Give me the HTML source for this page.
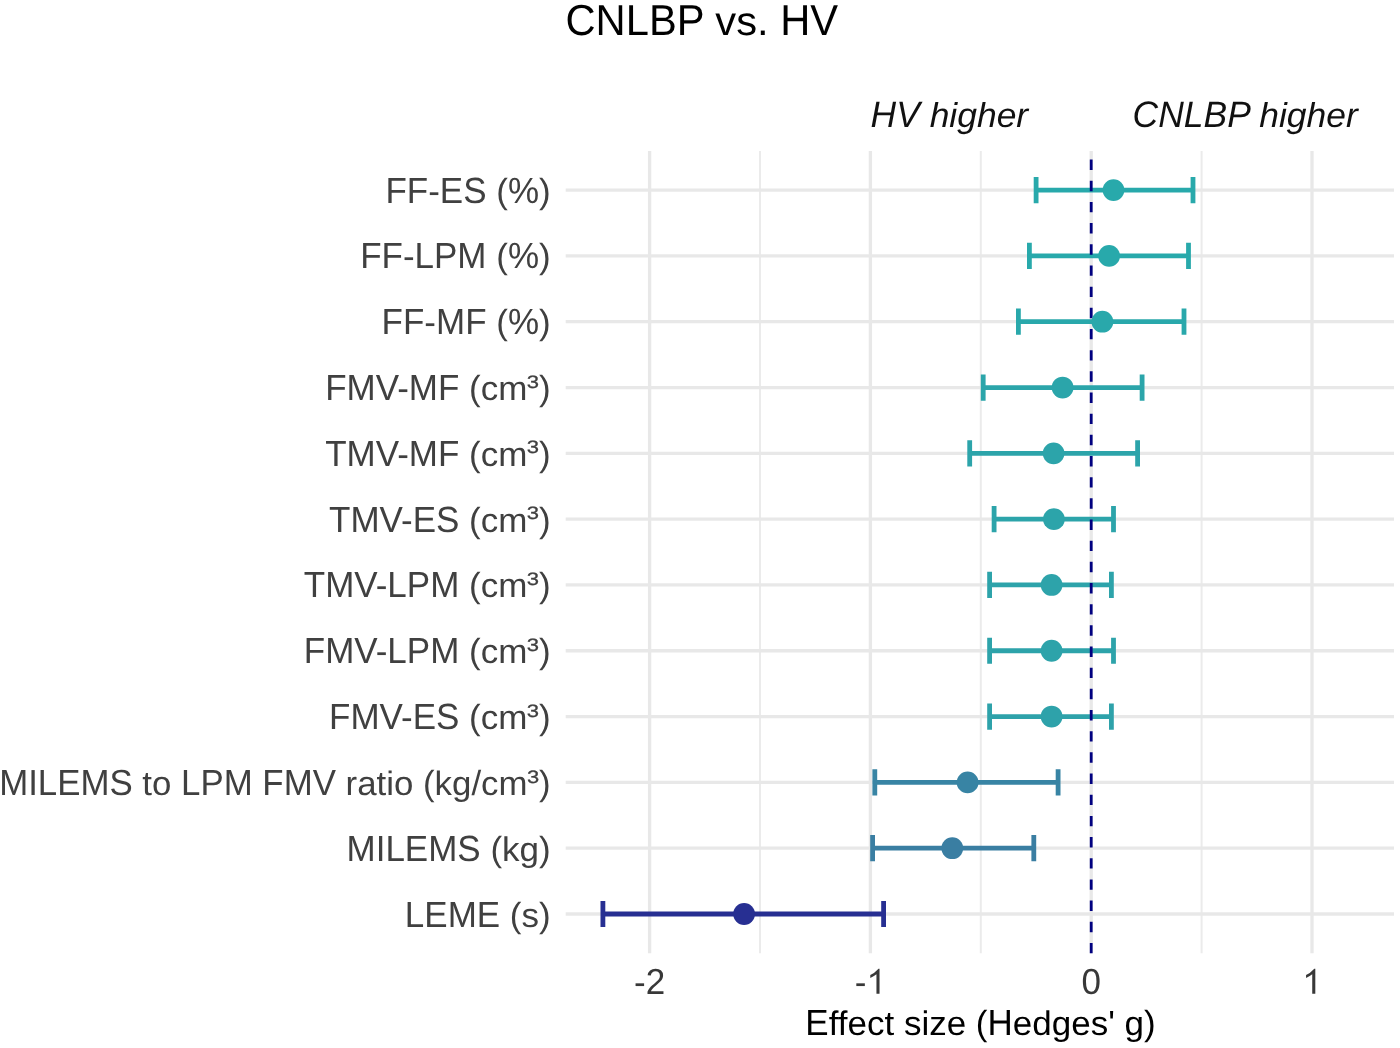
<!DOCTYPE html><html><head><meta charset="utf-8"><title>CNLBP vs. HV</title><style>html,body{margin:0;padding:0;background:#fff;overflow:hidden}svg{display:block;will-change:transform}text{font-family:"Liberation Sans",sans-serif;text-rendering:geometricPrecision;font-variant-ligatures:none;font-feature-settings:"liga" 0;}</style></head><body>
<svg width="1400" height="1048" viewBox="0 0 1400 1048">
<rect width="1400" height="1048" fill="#fff"/>
<g id="grid">
<line x1="760.00" y1="151.0" x2="760.00" y2="953.3" stroke="#EBEBEB" stroke-width="2"/>
<line x1="980.80" y1="151.0" x2="980.80" y2="953.3" stroke="#EBEBEB" stroke-width="2"/>
<line x1="1201.60" y1="151.0" x2="1201.60" y2="953.3" stroke="#EBEBEB" stroke-width="2"/>
<line x1="649.60" y1="151.0" x2="649.60" y2="953.3" stroke="#E8E8E8" stroke-width="3.3"/>
<line x1="870.40" y1="151.0" x2="870.40" y2="953.3" stroke="#E8E8E8" stroke-width="3.3"/>
<line x1="1091.20" y1="151.0" x2="1091.20" y2="953.3" stroke="#E8E8E8" stroke-width="3.3"/>
<line x1="1312.00" y1="151.0" x2="1312.00" y2="953.3" stroke="#E8E8E8" stroke-width="3.3"/>
<line x1="565.7" y1="190.10" x2="1394.0" y2="190.10" stroke="#E8E8E8" stroke-width="3.3"/>
<line x1="565.7" y1="255.91" x2="1394.0" y2="255.91" stroke="#E8E8E8" stroke-width="3.3"/>
<line x1="565.7" y1="321.72" x2="1394.0" y2="321.72" stroke="#E8E8E8" stroke-width="3.3"/>
<line x1="565.7" y1="387.53" x2="1394.0" y2="387.53" stroke="#E8E8E8" stroke-width="3.3"/>
<line x1="565.7" y1="453.34" x2="1394.0" y2="453.34" stroke="#E8E8E8" stroke-width="3.3"/>
<line x1="565.7" y1="519.15" x2="1394.0" y2="519.15" stroke="#E8E8E8" stroke-width="3.3"/>
<line x1="565.7" y1="584.96" x2="1394.0" y2="584.96" stroke="#E8E8E8" stroke-width="3.3"/>
<line x1="565.7" y1="650.77" x2="1394.0" y2="650.77" stroke="#E8E8E8" stroke-width="3.3"/>
<line x1="565.7" y1="716.58" x2="1394.0" y2="716.58" stroke="#E8E8E8" stroke-width="3.3"/>
<line x1="565.7" y1="782.39" x2="1394.0" y2="782.39" stroke="#E8E8E8" stroke-width="3.3"/>
<line x1="565.7" y1="848.20" x2="1394.0" y2="848.20" stroke="#E8E8E8" stroke-width="3.3"/>
<line x1="565.7" y1="914.01" x2="1394.0" y2="914.01" stroke="#E8E8E8" stroke-width="3.3"/>
</g><g id="errorbars">
<path d="M1036.10 177.00V203.20M1036.10 190.10H1193.00M1193.00 177.00V203.20" stroke="#28A9AB" stroke-width="4.8" fill="none"/>
<path d="M1029.40 242.81V269.01M1029.40 255.91H1188.50M1188.50 242.81V269.01" stroke="#28A9AB" stroke-width="4.8" fill="none"/>
<path d="M1018.40 308.62V334.82M1018.40 321.72H1184.00M1184.00 308.62V334.82" stroke="#29A8AB" stroke-width="4.8" fill="none"/>
<path d="M983.20 374.43V400.63M983.20 387.53H1142.10M1142.10 374.43V400.63" stroke="#2BA5AA" stroke-width="4.8" fill="none"/>
<path d="M969.70 440.24V466.44M969.70 453.34H1137.60M1137.60 440.24V466.44" stroke="#2CA4AA" stroke-width="4.8" fill="none"/>
<path d="M994.10 506.05V532.25M994.10 519.15H1113.50M1113.50 506.05V532.25" stroke="#2CA4AA" stroke-width="4.8" fill="none"/>
<path d="M989.60 571.86V598.06M989.60 584.96H1111.40M1111.40 571.86V598.06" stroke="#2DA3AA" stroke-width="4.8" fill="none"/>
<path d="M989.60 637.67V663.87M989.60 650.77H1113.50M1113.50 637.67V663.87" stroke="#2DA3AA" stroke-width="4.8" fill="none"/>
<path d="M989.60 703.48V729.68M989.60 716.58H1111.40M1111.40 703.48V729.68" stroke="#2EA2AA" stroke-width="4.8" fill="none"/>
<path d="M874.80 769.29V795.49M874.80 782.39H1058.10M1058.10 769.29V795.49" stroke="#3884A4" stroke-width="4.8" fill="none"/>
<path d="M872.60 835.10V861.30M872.60 848.20H1033.80M1033.80 835.10V861.30" stroke="#3A7EA2" stroke-width="4.8" fill="none"/>
<path d="M602.90 900.91V927.11M602.90 914.01H883.60M883.60 900.91V927.11" stroke="#272F92" stroke-width="4.8" fill="none"/>
</g>
<line x1="1091.2" y1="953.3" x2="1091.2" y2="151.0" stroke="#000080" stroke-width="2.8" stroke-dasharray="10.4 10.77"/>
<g id="points">
<circle cx="1113.50" cy="190.10" r="10.9" fill="#28A9AB"/>
<circle cx="1109.10" cy="255.91" r="10.9" fill="#28A9AB"/>
<circle cx="1102.40" cy="321.72" r="10.9" fill="#29A8AB"/>
<circle cx="1062.60" cy="387.53" r="10.9" fill="#2BA5AA"/>
<circle cx="1053.60" cy="453.34" r="10.9" fill="#2CA4AA"/>
<circle cx="1053.90" cy="519.15" r="10.9" fill="#2CA4AA"/>
<circle cx="1051.60" cy="584.96" r="10.9" fill="#2DA3AA"/>
<circle cx="1051.60" cy="650.77" r="10.9" fill="#2DA3AA"/>
<circle cx="1051.60" cy="716.58" r="10.9" fill="#2EA2AA"/>
<circle cx="967.60" cy="782.39" r="10.9" fill="#3884A4"/>
<circle cx="952.30" cy="848.20" r="10.9" fill="#3A7EA2"/>
<circle cx="744.10" cy="914.01" r="10.9" fill="#272F92"/>
</g><g id="text">
<text transform="translate(385.43 202.60) scale(1 1.04)" font-size="35" fill="#404040">FF</text>
<text transform="translate(428.18 202.60) scale(1 1.0)" font-size="35" fill="#404040">-</text>
<text transform="translate(439.84 202.60) scale(1 1.04)" font-size="35" fill="#404040">ES</text>
<text transform="translate(496.25 202.60) scale(1 1.0)" font-size="35" fill="#404040">(</text>
<text transform="translate(507.90 202.60) scale(1 1.04)" font-size="35" fill="#404040">%</text>
<text transform="translate(539.03 202.60) scale(1 1.0)" font-size="35" fill="#404040">)</text>
<text transform="translate(360.15 268.41) scale(1 1.04)" font-size="35" fill="#404040">FF</text>
<text transform="translate(402.90 268.41) scale(1 1.0)" font-size="35" fill="#404040">-</text>
<text transform="translate(414.56 268.41) scale(1 1.04)" font-size="35" fill="#404040">LPM</text>
<text transform="translate(496.25 268.41) scale(1 1.0)" font-size="35" fill="#404040">(</text>
<text transform="translate(507.90 268.41) scale(1 1.04)" font-size="35" fill="#404040">%</text>
<text transform="translate(539.03 268.41) scale(1 1.0)" font-size="35" fill="#404040">)</text>
<text transform="translate(381.59 334.22) scale(1 1.04)" font-size="35" fill="#404040">FF</text>
<text transform="translate(424.34 334.22) scale(1 1.0)" font-size="35" fill="#404040">-</text>
<text transform="translate(436.00 334.22) scale(1 1.04)" font-size="35" fill="#404040">MF</text>
<text transform="translate(496.26 334.22) scale(1 1.0)" font-size="35" fill="#404040">(</text>
<text transform="translate(507.92 334.22) scale(1 1.04)" font-size="35" fill="#404040">%</text>
<text transform="translate(539.03 334.22) scale(1 1.0)" font-size="35" fill="#404040">)</text>
<text transform="translate(325.22 400.03) scale(1 1.04)" font-size="35" fill="#404040">FMV</text>
<text transform="translate(397.15 400.03) scale(1 1.0)" font-size="35" fill="#404040">-</text>
<text transform="translate(408.81 400.03) scale(1 1.04)" font-size="35" fill="#404040">MF</text>
<text transform="translate(469.08 400.03) scale(1 1.0)" font-size="35" fill="#404040">(</text>
<text transform="translate(480.73 400.03) scale(1 0.975)" font-size="35" fill="#404040">cm</text>
<text transform="translate(526.87 387.63) scale(0.63 0.515)" font-size="35" fill="#404040" stroke="#404040" stroke-width="0.55">3</text>
<text transform="translate(539.04 400.03) scale(1 1.0)" font-size="35" fill="#404040">)</text>
<text transform="translate(325.22 465.84) scale(1 1.04)" font-size="35" fill="#404040">TMV</text>
<text transform="translate(397.15 465.84) scale(1 1.0)" font-size="35" fill="#404040">-</text>
<text transform="translate(408.81 465.84) scale(1 1.04)" font-size="35" fill="#404040">MF</text>
<text transform="translate(469.08 465.84) scale(1 1.0)" font-size="35" fill="#404040">(</text>
<text transform="translate(480.73 465.84) scale(1 0.975)" font-size="35" fill="#404040">cm</text>
<text transform="translate(526.87 453.44) scale(0.63 0.515)" font-size="35" fill="#404040" stroke="#404040" stroke-width="0.55">3</text>
<text transform="translate(539.04 465.84) scale(1 1.0)" font-size="35" fill="#404040">)</text>
<text transform="translate(329.06 531.65) scale(1 1.04)" font-size="35" fill="#404040">TMV</text>
<text transform="translate(401.00 531.65) scale(1 1.0)" font-size="35" fill="#404040">-</text>
<text transform="translate(412.65 531.65) scale(1 1.04)" font-size="35" fill="#404040">ES</text>
<text transform="translate(469.08 531.65) scale(1 1.0)" font-size="35" fill="#404040">(</text>
<text transform="translate(480.73 531.65) scale(1 0.975)" font-size="35" fill="#404040">cm</text>
<text transform="translate(526.86 519.25) scale(0.63 0.515)" font-size="35" fill="#404040" stroke="#404040" stroke-width="0.55">3</text>
<text transform="translate(539.03 531.65) scale(1 1.0)" font-size="35" fill="#404040">)</text>
<text transform="translate(303.78 597.46) scale(1 1.04)" font-size="35" fill="#404040">TMV</text>
<text transform="translate(375.72 597.46) scale(1 1.0)" font-size="35" fill="#404040">-</text>
<text transform="translate(387.37 597.46) scale(1 1.04)" font-size="35" fill="#404040">LPM</text>
<text transform="translate(469.06 597.46) scale(1 1.0)" font-size="35" fill="#404040">(</text>
<text transform="translate(480.72 597.46) scale(1 0.975)" font-size="35" fill="#404040">cm</text>
<text transform="translate(526.86 585.06) scale(0.63 0.515)" font-size="35" fill="#404040" stroke="#404040" stroke-width="0.55">3</text>
<text transform="translate(539.03 597.46) scale(1 1.0)" font-size="35" fill="#404040">)</text>
<text transform="translate(303.78 663.27) scale(1 1.04)" font-size="35" fill="#404040">FMV</text>
<text transform="translate(375.72 663.27) scale(1 1.0)" font-size="35" fill="#404040">-</text>
<text transform="translate(387.37 663.27) scale(1 1.04)" font-size="35" fill="#404040">LPM</text>
<text transform="translate(469.06 663.27) scale(1 1.0)" font-size="35" fill="#404040">(</text>
<text transform="translate(480.72 663.27) scale(1 0.975)" font-size="35" fill="#404040">cm</text>
<text transform="translate(526.86 650.87) scale(0.63 0.515)" font-size="35" fill="#404040" stroke="#404040" stroke-width="0.55">3</text>
<text transform="translate(539.03 663.27) scale(1 1.0)" font-size="35" fill="#404040">)</text>
<text transform="translate(329.06 729.08) scale(1 1.04)" font-size="35" fill="#404040">FMV</text>
<text transform="translate(401.00 729.08) scale(1 1.0)" font-size="35" fill="#404040">-</text>
<text transform="translate(412.65 729.08) scale(1 1.04)" font-size="35" fill="#404040">ES</text>
<text transform="translate(469.08 729.08) scale(1 1.0)" font-size="35" fill="#404040">(</text>
<text transform="translate(480.73 729.08) scale(1 0.975)" font-size="35" fill="#404040">cm</text>
<text transform="translate(526.86 716.68) scale(0.63 0.515)" font-size="35" fill="#404040" stroke="#404040" stroke-width="0.55">3</text>
<text transform="translate(539.03 729.08) scale(1 1.0)" font-size="35" fill="#404040">)</text>
<text transform="translate(-0.83 794.89) scale(1 1.04)" font-size="34.83" fill="#404040">MILEMS</text>
<text transform="translate(142.37 794.89) scale(1 0.975)" font-size="34.83" fill="#404040">to</text>
<text transform="translate(181.09 794.89) scale(1 1.04)" font-size="34.83" fill="#404040">LPM</text>
<text transform="translate(262.37 794.89) scale(1 1.04)" font-size="34.83" fill="#404040">FMV</text>
<text transform="translate(345.58 794.89) scale(1 0.975)" font-size="34.83" fill="#404040">ratio</text>
<text transform="translate(423.00 794.89) scale(1 1.0)" font-size="34.83" fill="#404040">(</text>
<text transform="translate(434.59 794.89) scale(1 0.975)" font-size="34.83" fill="#404040">kg</text>
<text transform="translate(471.39 794.89) scale(1 1.0)" font-size="34.83" fill="#404040">/</text>
<text transform="translate(481.06 794.89) scale(1 0.975)" font-size="34.83" fill="#404040">cm</text>
<text transform="translate(526.97 782.55) scale(0.63 0.515)" font-size="34.83" fill="#404040" stroke="#404040" stroke-width="0.55">3</text>
<text transform="translate(539.08 794.89) scale(1 1.0)" font-size="34.83" fill="#404040">)</text>
<text transform="translate(346.50 860.70) scale(1 1.04)" font-size="35" fill="#404040">MILEMS</text>
<text transform="translate(490.40 860.70) scale(1 1.0)" font-size="35" fill="#404040">(</text>
<text transform="translate(502.06 860.70) scale(1 0.975)" font-size="35" fill="#404040">kg</text>
<text transform="translate(539.03 860.70) scale(1 1.0)" font-size="35" fill="#404040">)</text>
<text transform="translate(404.84 926.51) scale(1 1.04)" font-size="35" fill="#404040">LEME</text>
<text transform="translate(509.87 926.51) scale(1 1.0)" font-size="35" fill="#404040">(</text>
<text transform="translate(521.53 926.51) scale(1 0.975)" font-size="35" fill="#404040">s</text>
<text transform="translate(539.03 926.51) scale(1 1.0)" font-size="35" fill="#404040">)</text>
<text transform="translate(805.32 1034.80) scale(1 1.04)" font-size="35" fill="#000">E</text>
<text transform="translate(828.66 1034.80) scale(1 0.975)" font-size="35" fill="#000">ffect</text>
<text transform="translate(903.88 1034.80) scale(1 0.975)" font-size="35" fill="#000">size</text>
<text transform="translate(975.85 1034.80) scale(1 1.0)" font-size="35" fill="#000">(</text>
<text transform="translate(987.51 1034.80) scale(1 1.04)" font-size="35" fill="#000">H</text>
<text transform="translate(1012.79 1034.80) scale(1 0.975)" font-size="35" fill="#000">edges</text>
<text transform="translate(1108.15 1034.80) scale(1 1.0)" font-size="35" fill="#000">'</text>
<text transform="translate(1124.55 1034.80) scale(1 0.975)" font-size="35" fill="#000">g</text>
<text transform="translate(1144.02 1034.80) scale(1 1.0)" font-size="35" fill="#000">)</text>
<text transform="translate(565.50 34.70) scale(1 1.04)" font-size="41.7" fill="#000">CNLBP</text>
<text transform="translate(715.33 34.70) scale(1 0.975)" font-size="41.7" fill="#000">vs</text>
<text transform="translate(757.02 34.70) scale(1 1.0)" font-size="41.7" fill="#000">.</text>
<text transform="translate(780.17 34.70) scale(1 1.04)" font-size="41.7" fill="#000">HV</text>
<text transform="translate(870.60 126.90) scale(1 1.04)" font-size="35.45" fill="#111" font-style="italic">HV</text>
<text transform="translate(929.66 126.90) scale(1 0.975)" font-size="35.45" fill="#111" font-style="italic">higher</text>
<text transform="translate(1132.60 126.90) scale(1 1.04)" font-size="35.45" fill="#111" font-style="italic">CNLBP</text>
<text transform="translate(1259.29 126.90) scale(1 0.975)" font-size="35.45" fill="#111" font-style="italic">higher</text>
<text transform="translate(634.04 993.80) scale(1 1.0)" font-size="35" fill="#383838">-</text>
<text transform="translate(645.68 993.80) scale(1 1.033)" font-size="35" fill="#383838">2</text>
<text transform="translate(1081.47 993.80) scale(1 1.033)" font-size="35" fill="#383838">0</text>
<text transform="translate(854.84 993.80)" font-size="35" fill="#383838">-</text>
<path transform="translate(866.49 993.80) scale(0.017090 -0.017090)" d="M763 0H583V1147Q401 1001 222 931V1105Q461 1194 703 1466H763Z" fill="#383838"/>
<path transform="translate(1302.27 993.80) scale(0.017090 -0.017090)" d="M763 0H583V1147Q401 1001 222 931V1105Q461 1194 703 1466H763Z" fill="#383838"/>
</g></svg></body></html>
